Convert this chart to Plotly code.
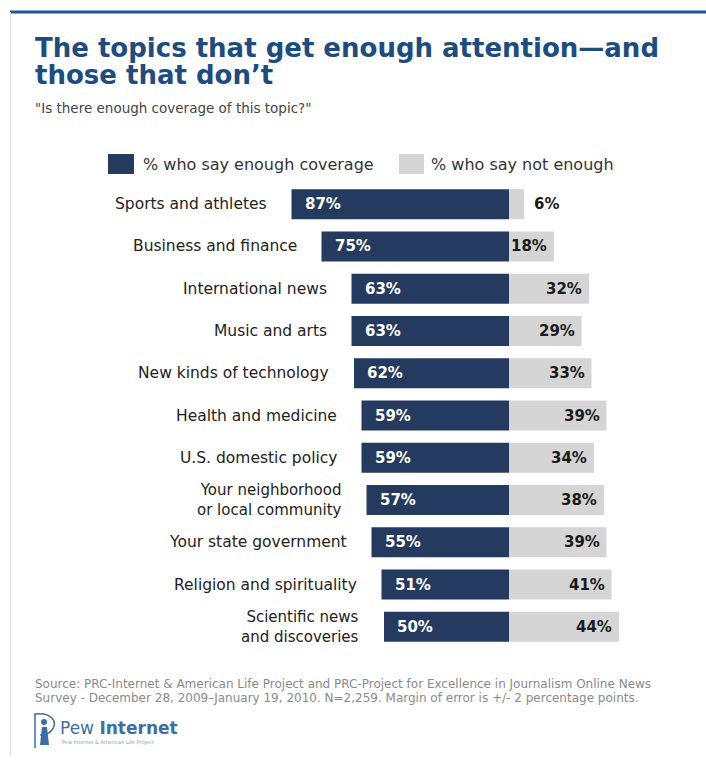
import plotly.graph_objects as go

# Survey results: share saying each topic gets enough / not enough coverage
categories = [
    "Sports and athletes",
    "Business and finance",
    "International news",
    "Music and arts",
    "New kinds of technology",
    "Health and medicine",
    "U.S. domestic policy",
    "Your neighborhood<br>or local community",
    "Your state government",
    "Religion and spirituality",
    "Scientific news<br>and discoveries",
]
enough = [87, 75, 63, 63, 62, 59, 59, 57, 55, 51, 50]
not_enough = [6, 18, 32, 29, 33, 39, 34, 38, 39, 41, 44]

legend_labels = ["% who say enough coverage", "% who say not enough"]
title_lines = ["The topics that get enough attention\u2014and", "those that don\u2019t"]
subtitle = "\"Is there enough coverage of this topic?\""
source_lines = [
    "Source: PRC-Internet & American Life Project and PRC-Project for Excellence in Journalism Online News",
    "Survey - December 28, 2009\u2013January 19, 2010. N=2,259. Margin of error is +/- 2 percentage points.",
]

DARK = "#243a5f"
LIGHT = "#d5d5d5"
TITLE_BLUE = "#1d4d80"
FONT = "DejaVu Sans"

W, H = 706, 760
TOP, BOTTOM = 183, 648  # plot area in pixels


def px(x):
    return x / W


def py(y):
    return (BOTTOM - y) / (BOTTOM - TOP)


fig = go.Figure()
fig.add_trace(go.Bar(
    y=categories, x=[-v for v in enough], orientation="h",
    marker=dict(color=DARK, line=dict(width=0)), width=0.71,
    name=legend_labels[0], hoverinfo="skip",
))
fig.add_trace(go.Bar(
    y=categories, x=not_enough, orientation="h",
    marker=dict(color=LIGHT, line=dict(width=0)), width=0.71,
    name=legend_labels[1], hoverinfo="skip",
))

ann = []
for cat, e, n in zip(categories, enough, not_enough):
    ann.append(dict(x=-e, y=cat, xref="x", yref="y", text=cat, showarrow=False,
                    xanchor="right", yanchor="middle", align="right", xshift=-23,
                    font=dict(family=FONT, size=15.5 if "<br>" not in cat else 15,
                              color="#222222")))
    ann.append(dict(x=-e, y=cat, xref="x", yref="y", text=f"{e}%", showarrow=False,
                    xanchor="left", yanchor="middle", xshift=11,
                    font=dict(family=FONT, size=15, color="white", weight="bold")))
    if n >= 10:
        ann.append(dict(x=n, y=cat, xref="x", yref="y", text=f"{n}%", showarrow=False,
                        xanchor="right", yanchor="middle", xshift=-5,
                        font=dict(family=FONT, size=15, color="#1a1a1a", weight="bold")))
    else:
        ann.append(dict(x=n, y=cat, xref="x", yref="y", text=f"{n}%", showarrow=False,
                        xanchor="left", yanchor="middle", xshift=8,
                        font=dict(family=FONT, size=15, color="#1a1a1a", weight="bold")))

# Title and subtitle
ann.append(dict(x=px(33), y=py(48), xref="paper", yref="paper", text=title_lines[0],
                showarrow=False, xanchor="left", yanchor="middle",
                font=dict(family=FONT, size=26, color=TITLE_BLUE, weight="bold")))
ann.append(dict(x=px(33), y=py(75), xref="paper", yref="paper", text=title_lines[1],
                showarrow=False, xanchor="left", yanchor="middle",
                font=dict(family=FONT, size=26, color=TITLE_BLUE, weight="bold")))
ann.append(dict(x=px(33), y=py(108), xref="paper", yref="paper", text=subtitle,
                showarrow=False, xanchor="left", yanchor="middle",
                font=dict(family=FONT, size=13.5, color="#444444")))

# Legend
ann.append(dict(x=px(141), y=py(164), xref="paper", yref="paper", text=legend_labels[0],
                showarrow=False, xanchor="left", yanchor="middle",
                font=dict(family=FONT, size=16, color="#333333")))
ann.append(dict(x=px(429), y=py(164), xref="paper", yref="paper", text=legend_labels[1],
                showarrow=False, xanchor="left", yanchor="middle",
                font=dict(family=FONT, size=16, color="#333333")))

# Source note
for i, line in enumerate(source_lines):
    ann.append(dict(x=px(33), y=py(684 + 14 * i), xref="paper", yref="paper", text=line,
                    showarrow=False, xanchor="left", yanchor="middle",
                    font=dict(family=FONT, size=12, color="#8a8a8a")))

# Logo wordmark
ann.append(dict(x=px(58), y=py(728), xref="paper", yref="paper",
                text="Pew <b>Internet</b>", showarrow=False, xanchor="left", yanchor="middle",
                font=dict(family=FONT, size=17, color="#3b6ea6")))
ann.append(dict(x=px(60), y=py(742), xref="paper", yref="paper",
                text="Pew Internet & American Life Project", showarrow=False,
                xanchor="left", yanchor="middle",
                font=dict(family=FONT, size=5, color="#7f9cc0")))

shapes = [
    # frame: blue rule on top, faint rule on the left
    dict(type="line", xref="paper", yref="paper", x0=px(10), x1=px(706), y0=py(12), y1=py(12),
         line=dict(color="#1f5592", width=3)),
    dict(type="line", xref="paper", yref="paper", x0=px(10.5), x1=px(10.5), y0=py(12), y1=py(756),
         line=dict(color="#dcdcdc", width=1)),
    # legend swatches
    dict(type="rect", xref="paper", yref="paper", x0=px(108), x1=px(134), y0=py(154), y1=py(174),
         fillcolor=DARK, line=dict(width=0)),
    dict(type="rect", xref="paper", yref="paper", x0=px(399), x1=px(424), y0=py(154), y1=py(174),
         fillcolor=LIGHT, line=dict(width=0)),
    # logo mark
    dict(type="path", xref="paper", yref="paper",
         path=(f"M {px(35)},{py(748)} L {px(35)},{py(714)} "
               f"C {px(52)},{py(712)} {px(58)},{py(722)} {px(52)},{py(730)} "
               f"C {px(49)},{py(734)} {px(44)},{py(735)} {px(40)},{py(735)}"),
         line=dict(color="#3b6ea6", width=1.5)),
    dict(type="circle", xref="paper", yref="paper", x0=px(41), x1=px(47), y0=py(719), y1=py(725),
         fillcolor="#3b6ea6", line=dict(width=0)),
    dict(type="path", xref="paper", yref="paper",
         path=(f"M {px(40)},{py(745)} L {px(42)},{py(727)} L {px(47)},{py(727)} "
               f"L {px(49)},{py(745)} Z"),
         fillcolor="#3b6ea6", line=dict(width=0)),
]

fig.update_layout(
    width=W, height=H,
    margin=dict(l=0, r=0, t=TOP, b=H - BOTTOM),
    barmode="relative",
    showlegend=False,
    plot_bgcolor="white",
    paper_bgcolor="white",
    xaxis=dict(range=[-509 / 2.5, (W - 509) / 2.5], visible=False, fixedrange=True),
    yaxis=dict(type="category", range=[len(categories) - 0.5, -0.5], visible=False,
               fixedrange=True),
    annotations=ann,
    shapes=shapes,
)

fig.write_html("out.html")
